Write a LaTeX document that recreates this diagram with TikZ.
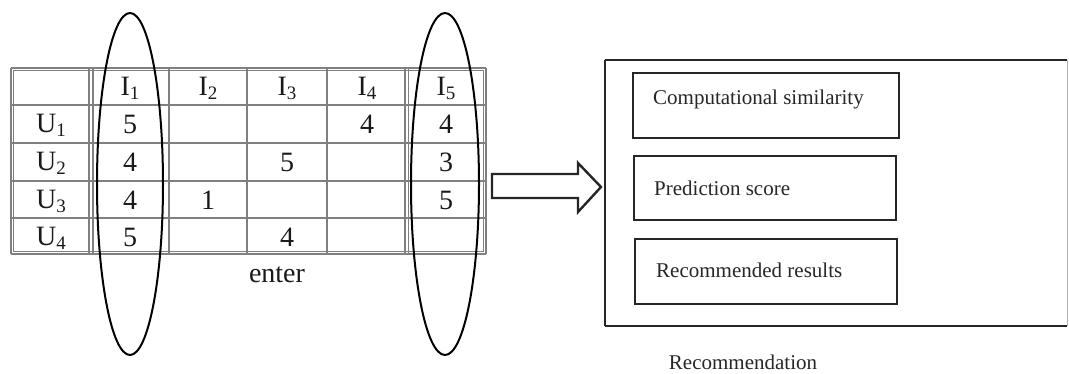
\documentclass[tikz,border=0pt]{standalone}
\usepackage{fontspec}
\setmainfont{Liberation Serif}
\newcommand{\sbs}[1]{\raisebox{-0.14em}{\fontsize{19}{19}\selectfont #1}}
\begin{document}
\begin{tikzpicture}[x=1pt,y=-1pt,
  grid/.style={draw=black!50,line width=1.2pt},
  cell/.style={font=\fontsize{28}{30}\selectfont,text=black!90,inner sep=0pt},
  ring/.style={draw=black,line width=2pt},
  stepbox/.style={draw=black!85,line width=2.4pt},
  lbl/.style={font=\fontsize{21}{24}\selectfont,text=black!85,inner sep=0pt}]
\useasboundingbox (0,0) rectangle (1069,374);

% rating matrix grid
\def\colsx{11,89,169,247,327,405,486}
\def\rowsy{68,105,143,181,218,254}
\foreach \x in \colsx {\draw[grid] (\x,68) -- (\x,254);}
\foreach \y in \rowsy {\draw[grid] (11,\y) -- (486,\y);}
% doubled rules
\draw[grid] (13.5,70.5) rectangle (483.5,251.5);
\draw[grid] (93,68) -- (93,254);
\draw[grid] (408.5,68) -- (408.5,254);

% column headers
\foreach \c/\x in {1/130,2/208,3/287,4/367,5/446}
  \node[cell,anchor=base] (h\c) at (\x,96) {I\sbs{\c}};
% row headers
\foreach \r/\y in {1/133,2/171,3/209,4/246}
  \node[cell,anchor=base] (u\r) at (51,\y) {U\sbs{\r}};

% ratings
\node[cell] (r11) at (130,124) {5};
\node[cell] (r14) at (367,124) {4};
\node[cell] (r15) at (446,124) {4};
\node[cell] (r21) at (130,162) {4};
\node[cell] (r23) at (287,162) {5};
\node[cell] (r25) at (446,162) {3};
\node[cell] (r31) at (130,200) {4};
\node[cell] (r32) at (208,200) {1};
\node[cell] (r35) at (446,200) {5};
\node[cell] (r41) at (130,237) {5};
\node[cell] (r43) at (287,237) {4};

\node[cell] (enter) at (277,275) {enter};

% highlighted item columns
\draw[ring] (130,184) ellipse [x radius=33,y radius=171];
\draw[ring] (445,184) ellipse [x radius=34,y radius=171];

% recommendation module
\draw[stepbox] (605,60) -- (1067,60);
\draw[stepbox] (605,326) -- (1067,326);
\draw[stepbox] (605,60) -- (605,326);
\draw[draw=black!30,line width=1pt] (1067,60) -- (1067,326);
\coordinate (rec) at (605,187);

\node[stepbox,minimum width=266,minimum height=65,anchor=north west] (b1) at (632,72) {};
\node[stepbox,minimum width=262,minimum height=64,anchor=north west] (b2) at (633,155) {};
\node[stepbox,minimum width=262,minimum height=65,anchor=north west] (b3) at (634,238) {};
\node[lbl,anchor=west] (t1) at (653,99) {Computational similarity};
\node[lbl,anchor=west] (t2) at (654,188) {Prediction score};
\node[lbl,anchor=west] (t3) at (656,270) {Recommended results};
\node[lbl] (recname) at (743,362) {Recommendation};

% block arrow from matrix to module
\draw[stepbox,line join=miter] (492,174) -- (578,174) -- (578,163) -- (601,187)
  -- (578,212) -- (578,198) -- (492,198) -- cycle;
\end{tikzpicture}
\end{document}
